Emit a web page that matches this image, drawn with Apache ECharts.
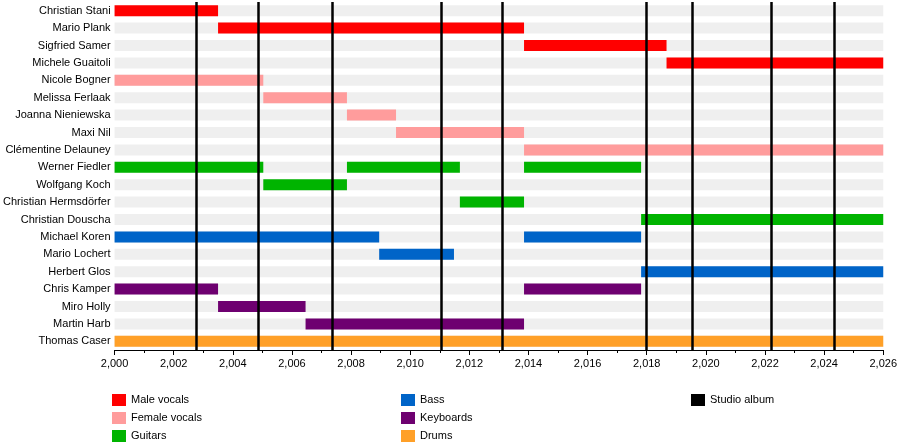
<!DOCTYPE html>
<html lang="en">
<head>
<meta charset="UTF-8">
<title>Timeline</title>
<script src="https://cdn.jsdelivr.net/npm/echarts@6/dist/echarts.min.js"></script>
</head>
<body style="margin:0">
<div id="main" style="width:900px;height:447px;"></div>
<script type="text/javascript">
var members = ['Christian Stani', 'Mario Plank', 'Sigfried Samer', 'Michele Guaitoli', 'Nicole Bogner',
    'Melissa Ferlaak', 'Joanna Nieniewska', 'Maxi Nil', 'Clémentine Delauney', 'Werner Fiedler',
    'Wolfgang Koch', 'Christian Hermsdörfer', 'Christian Douscha', 'Michael Koren', 'Mario Lochert',
    'Herbert Glos', 'Chris Kamper', 'Miro Holly', 'Martin Harb', 'Thomas Caser'];

// [row, start, end]
var maleVocals = [[0, 2000, 2003.5], [1, 2003.5, 2013.85], [2, 2013.85, 2018.67], [3, 2018.67, 2026]];
var femaleVocals = [[4, 2000, 2005.03], [5, 2005.03, 2007.86], [6, 2007.86, 2009.52], [7, 2009.52, 2013.85], [8, 2013.85, 2026]];
var guitars = [[9, 2000, 2005.03], [9, 2007.86, 2011.68], [9, 2013.85, 2017.81], [10, 2005.03, 2007.86],
    [11, 2011.68, 2013.85], [12, 2017.81, 2026]];
var bass = [[13, 2000, 2008.95], [13, 2013.85, 2017.81], [14, 2008.95, 2011.48], [15, 2017.81, 2026]];
var keyboards = [[16, 2000, 2003.5], [16, 2013.85, 2017.81], [17, 2003.5, 2006.46], [18, 2006.46, 2013.85]];
var drums = [[19, 2000, 2026]];
var albums = [2002.76, 2004.86, 2007.36, 2011.05, 2013.12, 2017.98, 2019.54, 2022.2, 2024.33];

var myChart = echarts.init(document.getElementById('main'));

function barItem(h) {
    return function (params, api) {
        var a = api.coord([api.value(1), api.value(0)]);
        var b = api.coord([api.value(2), api.value(0)]);
        return {
            type: 'rect',
            shape: {x: a[0], y: a[1] - h / 2, width: b[0] - a[0], height: h},
            style: {fill: api.visual('color')}
        };
    };
}

function roleSeries(name, color, data) {
    return {name: name, type: 'custom', renderItem: barItem(11), itemStyle: {color: color},
        encode: {x: [1, 2], y: 0}, data: data, z: 3};
}

var stripes = members.map(function (m, i) { return [i, 2000, 2026]; });

var series = [
    {name: 'bg', type: 'custom', renderItem: barItem(11), itemStyle: {color: '#efefef'},
        encode: {x: [1, 2], y: 0}, data: stripes, z: 1, silent: true},
    roleSeries('Male vocals', '#ff0000', maleVocals),
    roleSeries('Female vocals', '#ff9c9c', femaleVocals),
    roleSeries('Guitars', '#00b400', guitars),
    roleSeries('Bass', '#0064c8', bass),
    roleSeries('Keyboards', '#6e0070', keyboards),
    roleSeries('Drums', '#ffa028', drums),
    {name: 'Studio album', type: 'line', data: [], itemStyle: {color: '#000'}, z: 5,
        markLine: {symbol: 'none', silent: true, label: {show: false},
            lineStyle: {color: '#000', width: 2.5, type: 'solid'},
            data: albums.map(function (v) { return {xAxis: v}; })}}
];

function legendAt(names, left) {
    return {data: names, orient: 'vertical', left: left, top: 389, itemWidth: 14, itemHeight: 12,
        itemGap: 6, icon: 'rect', textStyle: {fontSize: 11, color: '#000', fontFamily: 'Liberation Sans'}};
}

myChart.setOption({
    animation: false,
    textStyle: {fontFamily: 'Liberation Sans'},
    grid: {left: 110, right: 9, top: 2, bottom: 97},
    legend: [
        legendAt(['Male vocals', 'Female vocals', 'Guitars'], 107),
        legendAt(['Bass', 'Keyboards', 'Drums'], 396),
        legendAt(['Studio album'], 686)
    ],
    xAxis: {type: 'value', min: 2000, max: 2026, interval: 2,
        axisLine: {show: true, lineStyle: {color: '#000'}},
        axisTick: {show: true, length: 5, lineStyle: {color: '#000'}},
        minorTick: {show: true, splitNumber: 2, length: 3, lineStyle: {color: '#000'}},
        splitLine: {show: false},
        axisLabel: {fontSize: 11, color: '#000'}},
    yAxis: {type: 'category', data: members, inverse: true,
        axisLine: {show: false}, axisTick: {show: false},
        axisLabel: {fontSize: 11, color: '#000', margin: 4}},
    series: series
});
</script>
</body>
</html>
